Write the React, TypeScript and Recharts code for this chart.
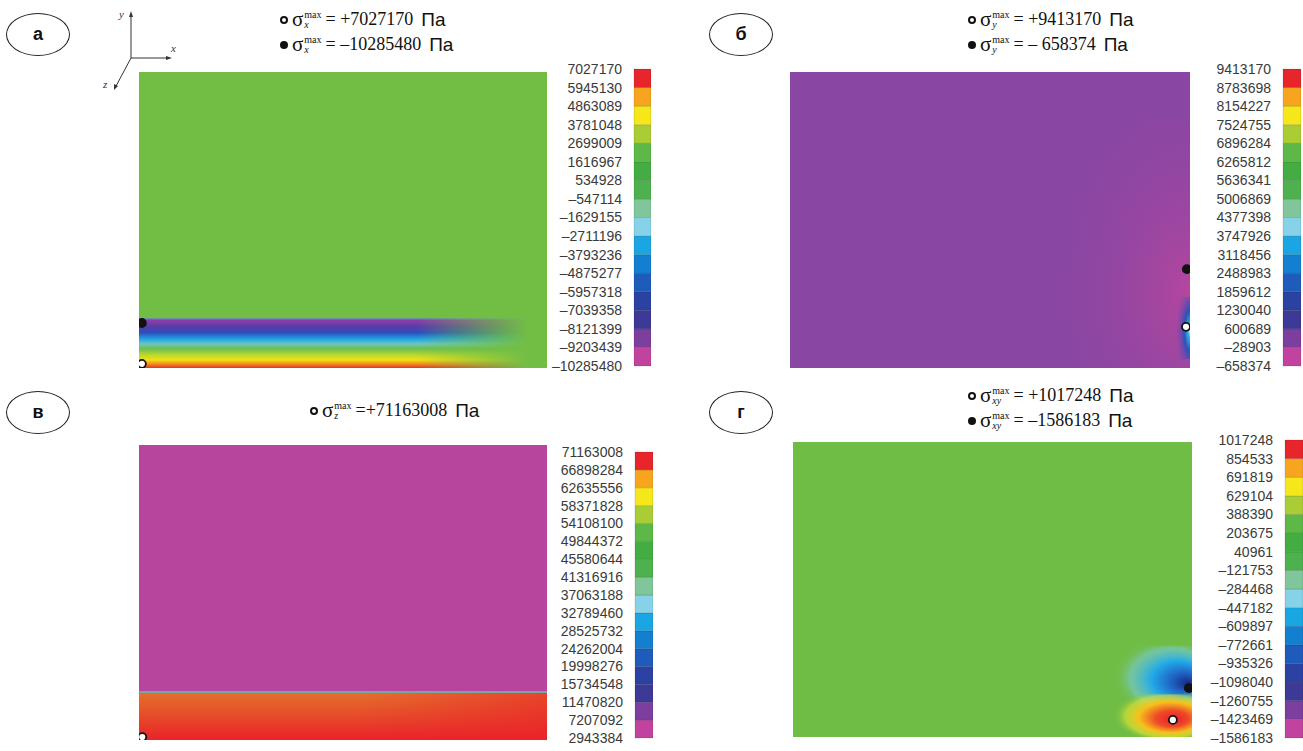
import { ComposedChart, BarChart, Bar, XAxis, YAxis, Scatter, ReferenceArea, ReferenceLine } from "recharts";

// colour scale, bottom band -> top band
const PALETTE = [
  "#c2439f", "#7d3f9e", "#3d3996", "#2b42a3", "#1f5bbb", "#137fd0", "#1aa6e3", "#86d2e8",
  "#80c69a", "#4db24e", "#43ad43", "#5db847", "#aacd36", "#f6e71a", "#f7a51f", "#e8252b",
];

// colour bar labels, top -> bottom
const scaleA = ["7027170", "5945130", "4863089", "3781048", "2699009", "1616967", "534928", "–547114", "–1629155", "–2711196", "–3793236", "–4875277", "–5957318", "–7039358", "–8121399", "–9203439", "–10285480"];
const scaleB = ["9413170", "8783698", "8154227", "7524755", "6896284", "6265812", "5636341", "5006869", "4377398", "3747926", "3118456", "2488983", "1859612", "1230040", "600689", "–28903", "–658374"];
const scaleC = ["71163008", "66898284", "62635556", "58371828", "54108100", "49844372", "45580644", "41316916", "37063188", "32789460", "28525732", "24262004", "19998276", "15734548", "11470820", "7207092", "2943384"];
const scaleD = ["1017248", "854533", "691819", "629104", "388390", "203675", "40961", "–121753", "–284468", "–447182", "–609897", "–772661", "–935326", "–1098040", "–1260755", "–1423469", "–1586183"];

// one row, one level interval per band
const bandRow = [Object.fromEntries(PALETTE.map((_, i) => [`b${i}`, 1]))];

// extreme points, normalised body coordinates (x right, y up)
const dotsA = [{ x: 0.007, y: 0.152, kind: "min" }, { x: 0.007, y: 0.014, kind: "max" }];
const dotsB = [{ x: 0.992, y: 0.334, kind: "min" }, { x: 0.99, y: 0.139, kind: "max" }];
const dotsC = [{ x: 0.008, y: 0.01, kind: "max" }];
const dotsD = [{ x: 0.992, y: 0.166, kind: "min" }, { x: 0.952, y: 0.058, kind: "max" }];

// stress zones (fill = gradient / colour key)
const zonesA = [
  { x1: 0, x2: 1, y1: 0, y2: 1, fill: "#72be45" },
  { x1: 0, x2: 1, y1: 0, y2: 0.17, fill: "url(#aBand)" },
  { x1: 0.68, x2: 1, y1: 0, y2: 0.172, fill: "url(#aFade)" },
];
const zonesB = [
  { x1: 0, x2: 1, y1: 0, y2: 1, fill: "#8a46a3" },
  { x1: 0.6, x2: 1, y1: 0, y2: 0.85, fill: "url(#bTint)" },
  { x1: 0.955, x2: 1, y1: 0.03, y2: 0.24, fill: "url(#bSpot)" },
];
const zonesC = [
  { x1: 0, x2: 1, y1: 0.163, y2: 1, fill: "#b7449d" },
  { x1: 0, x2: 1, y1: 0, y2: 0.163, fill: "url(#cBand)" },
  { x1: 0.55, x2: 1, y1: 0, y2: 0.163, fill: "url(#cRed)" },
];
const zonesD = [
  { x1: 0, x2: 1, y1: 0, y2: 1, fill: "#70bd46" },
  { x1: 0.78, x2: 1, y1: 0.1, y2: 0.31, fill: "url(#dBlue)" },
  { x1: 0.78, x2: 1, y1: 0, y2: 0.145, fill: "url(#dRed)" },
];

const headA = [{ mark: "open", sub: "x", eq: "= +7027170" }, { mark: "filled", sub: "x", eq: "= –10285480" }];
const headB = [{ mark: "open", sub: "y", eq: "= +9413170" }, { mark: "filled", sub: "y", eq: "= – 658374" }];
const headC = [{ mark: "open", sub: "z", eq: "=+71163008" }];
const headD = [{ mark: "open", sub: "xy", eq: "= +1017248" }, { mark: "filled", sub: "xy", eq: "= –1586183" }];

const SERIF = '"Liberation Serif", "Times New Roman", serif';
const SANS = '"Liberation Sans", Arial, sans-serif';

function Defs() {
  return (
    <defs>
      <linearGradient id="aBand" x1="0" y1="0" x2="0" y2="1">
        <stop offset="0" stopColor="#5fb3a4" />
        <stop offset="0.05" stopColor="#8a3fa8" />
        <stop offset="0.18" stopColor="#5b3aa6" />
        <stop offset="0.3" stopColor="#2a4fbe" />
        <stop offset="0.42" stopColor="#1fa2e2" />
        <stop offset="0.52" stopColor="#6cc6c0" />
        <stop offset="0.62" stopColor="#6dbf4c" />
        <stop offset="0.74" stopColor="#b9d82e" />
        <stop offset="0.84" stopColor="#f4e012" />
        <stop offset="0.93" stopColor="#f08222" />
        <stop offset="1" stopColor="#e83028" />
      </linearGradient>
      <linearGradient id="aFade" x1="0" y1="0" x2="1" y2="0">
        <stop offset="0" stopColor="#72be45" stopOpacity="0" />
        <stop offset="0.85" stopColor="#72be45" stopOpacity="1" />
        <stop offset="1" stopColor="#72be45" stopOpacity="1" />
      </linearGradient>
      <radialGradient id="bTint" cx="1" cy="0.7" r="0.9">
        <stop offset="0" stopColor="#b8469f" stopOpacity="0.95" />
        <stop offset="1" stopColor="#8a46a3" stopOpacity="0" />
      </radialGradient>
      <radialGradient id="bSpot" cx="1" cy="0.55" r="0.8">
        <stop offset="0" stopColor="#d8f6f0" />
        <stop offset="0.12" stopColor="#30b8e4" />
        <stop offset="0.4" stopColor="#2c52b8" />
        <stop offset="1" stopColor="#8a46a3" stopOpacity="0" />
      </radialGradient>
      <linearGradient id="cBand" x1="0" y1="0" x2="0" y2="1">
        <stop offset="0" stopColor="#e4712c" />
        <stop offset="0.45" stopColor="#e64f2a" />
        <stop offset="1" stopColor="#ea2229" />
      </linearGradient>
      <linearGradient id="cRed" x1="0" y1="0" x2="1" y2="0">
        <stop offset="0" stopColor="#ea2229" stopOpacity="0" />
        <stop offset="1" stopColor="#ea2229" stopOpacity="0.55" />
      </linearGradient>
      <radialGradient id="dBlue" cx="0.72" cy="0.5" r="0.62" fx="0.97" fy="0.62">
        <stop offset="0" stopColor="#1b237a" />
        <stop offset="0.22" stopColor="#1f5ec0" />
        <stop offset="0.5" stopColor="#22aae8" />
        <stop offset="0.78" stopColor="#78cad0" stopOpacity="0.6" />
        <stop offset="1" stopColor="#70bd46" stopOpacity="0" />
      </radialGradient>
      <radialGradient id="dRed" cx="0.72" cy="0.5" r="0.62" fx="0.8" fy="0.6">
        <stop offset="0" stopColor="#e81e2a" />
        <stop offset="0.3" stopColor="#ee4a28" />
        <stop offset="0.58" stopColor="#f6c01c" />
        <stop offset="0.8" stopColor="#e2e630" stopOpacity="0.6" />
        <stop offset="1" stopColor="#70bd46" stopOpacity="0" />
      </radialGradient>
    </defs>
  );
}

function Dot(props: any) {
  const filled = props.payload.kind === "min";
  return <circle cx={props.cx} cy={props.cy} r={4} fill={filled ? "#111" : "#fff"} stroke="#111" strokeWidth={1.8} />;
}

function Field({ left, top, width, height, zones, dots, divider }: any) {
  return (
    <div style={{ position: "absolute", left, top }}>
      <ComposedChart width={width} height={height} margin={{ top: 0, right: 0, bottom: 0, left: 0 }}>
        <Defs />
        <XAxis type="number" dataKey="x" domain={[0, 1]} hide allowDataOverflow />
        <YAxis type="number" dataKey="y" domain={[0, 1]} hide allowDataOverflow />
        {zones.map((z: any, i: number) => (
          <ReferenceArea key={i} x1={z.x1} x2={z.x2} y1={z.y1} y2={z.y2} fill={z.fill} fillOpacity={1} stroke="none" ifOverflow="visible" />
        ))}
        {divider != null && <ReferenceLine y={divider} stroke="#79a6a2" strokeWidth={2} />}
        <Scatter data={dots} shape={Dot} isAnimationActive={false} />
      </ComposedChart>
    </div>
  );
}

function ColorBar({ left, top, labels, span, barWidth }: any) {
  const axisW = 104;
  const ticks = labels.map((_: string, i: number) => i);
  const last = labels.length - 1;
  return (
    <div style={{ position: "absolute", left, top: top - 10 }}>
      <BarChart
        width={axisW + barWidth}
        height={span + 20}
        data={bandRow}
        barCategoryGap={0}
        margin={{ top: 10, right: 0, bottom: 10, left: 0 }}
      >
        <XAxis type="category" hide />
        <YAxis
          type="number"
          domain={[0, last]}
          ticks={ticks}
          interval={0}
          width={axisW}
          axisLine={false}
          tickLine={false}
          tickMargin={6}
          tickFormatter={(v: number) => labels[last - v]}
          tick={{ fill: "#3a3a3a", fontSize: 14, fontFamily: SANS }}
        />
        {PALETTE.map((c, i) => (
          <Bar key={i} dataKey={`b${i}`} stackId="bar" fill={c} stroke="rgba(0,0,0,0.2)" strokeWidth={0.6} isAnimationActive={false} />
        ))}
      </BarChart>
    </div>
  );
}

function Mark({ kind }: { kind: string }) {
  const base = { display: "inline-block", width: 8, height: 8, borderRadius: "50%", boxSizing: "border-box" as const };
  return kind === "open"
    ? <span style={{ ...base, border: "2px solid #111" }} />
    : <span style={{ ...base, background: "#111" }} />;
}

function Header({ left, top, lines }: any) {
  return (
    <div style={{ position: "absolute", left, top, color: "#111" }}>
      {lines.map((l: any, i: number) => (
        <div key={i} style={{ display: "flex", alignItems: "center", height: 25, whiteSpace: "nowrap" }}>
          <Mark kind={l.mark} />
          <span style={{ fontFamily: SERIF, fontSize: 21, marginLeft: 4 }}>σ</span>
          <span style={{ display: "inline-flex", flexDirection: "column", fontFamily: SERIF, fontSize: 10, lineHeight: "10px", marginLeft: 1 }}>
            <span>max</span>
            <span style={{ fontStyle: "italic" }}>{l.sub}</span>
          </span>
          <span style={{ fontFamily: SERIF, fontSize: 18, marginLeft: 4 }}>{l.eq}</span>
          <span style={{ fontFamily: SANS, fontSize: 19, marginLeft: 8 }}>Па</span>
        </div>
      ))}
    </div>
  );
}

function Tag({ left, top, letter }: any) {
  return (
    <div style={{
      position: "absolute", left, top, width: 62, height: 41, border: "1px solid #222", borderRadius: "50%",
      display: "flex", alignItems: "center", justifyContent: "center",
      fontFamily: SANS, fontWeight: 700, fontSize: 18, color: "#111",
    }}>{letter}</div>
  );
}

function AxesIcon() {
  return (
    <svg style={{ position: "absolute", left: 95, top: 2 }} width={90} height={95}>
      <g stroke="#333" strokeWidth={1} fill="none">
        <line x1={36} y1={12} x2={36} y2={56} />
        <line x1={36} y1={56} x2={74} y2={56} />
        <line x1={36} y1={56} x2={20} y2={86} />
      </g>
      <path d="M36 9 L34 15 L38 15 Z M77 56 L71 54 L71 58 Z M19 88 L19 82 L23 84 Z" fill="#333" />
      <g fontFamily={SERIF} fontStyle="italic" fontSize={11} fill="#333">
        <text x={24} y={16}>y</text>
        <text x={76} y={50}>x</text>
        <text x={8} y={86}>z</text>
      </g>
    </svg>
  );
}

export default function App() {
  return (
    <div style={{ position: "absolute", left: 0, top: 0, width: 1303, height: 751, background: "#fff", overflow: "hidden" }}>
      <Tag left={6} top={13} letter="а" />
      <Tag left={709} top={13} letter="б" />
      <Tag left={6} top={391} letter="в" />
      <Tag left={709} top={391} letter="г" />
      <AxesIcon />

      <Header left={280} top={7} lines={headA} />
      <Header left={968} top={7} lines={headB} />
      <Header left={310} top={398} lines={headC} />
      <Header left={968} top={383} lines={headD} />

      <Field left={139} top={72} width={408} height={296} zones={zonesA} dots={dotsA} />
      <Field left={790} top={72} width={400} height={296} zones={zonesB} dots={dotsB} />
      <Field left={139} top={445} width={408} height={295} zones={zonesC} dots={dotsC} divider={0.163} />
      <Field left={793} top={442} width={399} height={295} zones={zonesD} dots={dotsD} />

      <ColorBar left={530} top={69} span={297} labels={scaleA} barWidth={17} />
      <ColorBar left={1179} top={69} span={297} labels={scaleB} barWidth={18} />
      <ColorBar left={531} top={452} span={286} labels={scaleC} barWidth={18} />
      <ColorBar left={1181} top={440} span={298} labels={scaleD} barWidth={18} />
    </div>
  );
}
